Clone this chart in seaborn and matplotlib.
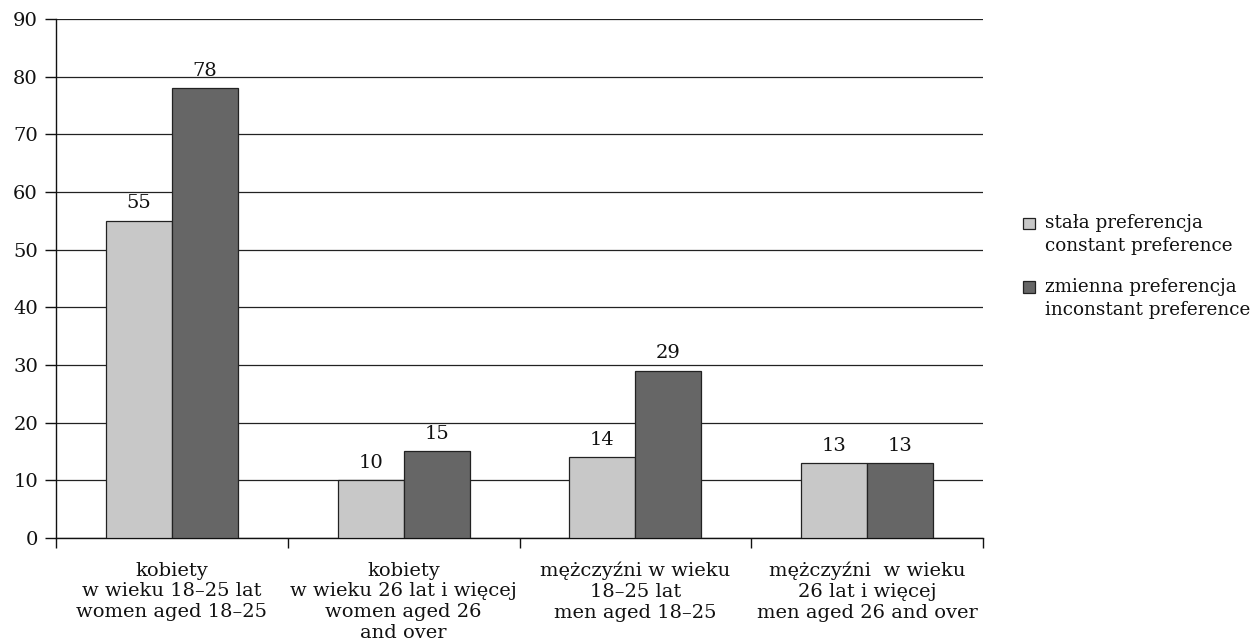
import matplotlib
matplotlib.use("Agg")
import matplotlib.pyplot as plt
import seaborn as sns
import pandas as pd

groups = [
    "kobiety\nw wieku 18\u201325 lat\nwomen aged 18\u201325",
    "kobiety\nw wieku 26 lat i więcej\nwomen aged 26\nand over",
    "mężczyźni w wieku\n18\u201325 lat\nmen aged 18\u201325",
    "mężczyźni  w wieku\n26 lat i więcej\nmen aged 26 and over",
]
series = [
    "stała preferencja\nconstant preference",
    "zmienna preferencja\ninconstant preference",
]
constant_pref = [55, 10, 14, 13]
inconstant_pref = [78, 15, 29, 13]
y_ticks = [0, 10, 20, 30, 40, 50, 60, 70, 80, 90]

df = pd.DataFrame({
    "group": groups * 2,
    "series": [series[0]] * 4 + [series[1]] * 4,
    "value": constant_pref + inconstant_pref,
})

sns.set_theme(style="white")
plt.rcParams["font.family"] = ["DejaVu Serif"]

fig = plt.figure(figsize=(12.54, 6.41), dpi=100)
ax = fig.add_axes([0.0447, 0.1607, 0.7392, 0.8097])

sns.barplot(
    data=df, x="group", y="value", hue="series",
    palette=["#c8c8c8", "#666666"], width=0.57,
    edgecolor="#222222", linewidth=0.9, saturation=1,
    ax=ax, legend=True, zorder=3,
)

ax.set_ylim(0, 90)
ax.set_xlim(-0.5, 3.5)
ax.set_yticks(y_ticks)
ax.yaxis.grid(True, color="#222222", linewidth=0.9)
ax.set_axisbelow(True)
for s in ("top", "right"):
    ax.spines[s].set_visible(False)
for s in ("left", "bottom"):
    ax.spines[s].set_color("#111111")
    ax.spines[s].set_linewidth(1.0)

ax.set_xlabel("")
ax.set_ylabel("")
ax.tick_params(axis="y", which="major", direction="out", length=8, width=1,
               color="#111111", labelsize=14, pad=5, left=True,
               labelcolor="#111111")
ax.tick_params(axis="x", which="major", length=0, labelsize=14, pad=17,
               labelcolor="#111111")
ax.set_xticks([-0.5, 0.5, 1.5, 2.5, 3.5], minor=True)
ax.tick_params(axis="x", which="minor", direction="out", length=7, width=1,
               color="#111111", bottom=True)
for lbl in ax.get_xticklabels():
    lbl.set_linespacing(1.2)
    lbl.set_va("top")

for cont in ax.containers:
    ax.bar_label(cont, fmt="%d", padding=6, fontsize=14, color="#111111")

handles, labels = ax.get_legend_handles_labels()
ax.get_legend().remove()
leg = fig.legend(handles, labels, loc="center left", bbox_to_anchor=(0.803, 0.584),
                 frameon=False, fontsize=13.2, handlelength=0.62, handleheight=0.62,
                 handletextpad=0.55, labelspacing=1.25, labelcolor="#111111")
for t in leg.get_texts():
    t.set_linespacing(1.35)
# align each legend swatch with the first line of its two-line label
for p in leg.legend_handles:
    p.set_y(p.get_y() + 8.5)

fig.savefig("out.png", dpi=100)
